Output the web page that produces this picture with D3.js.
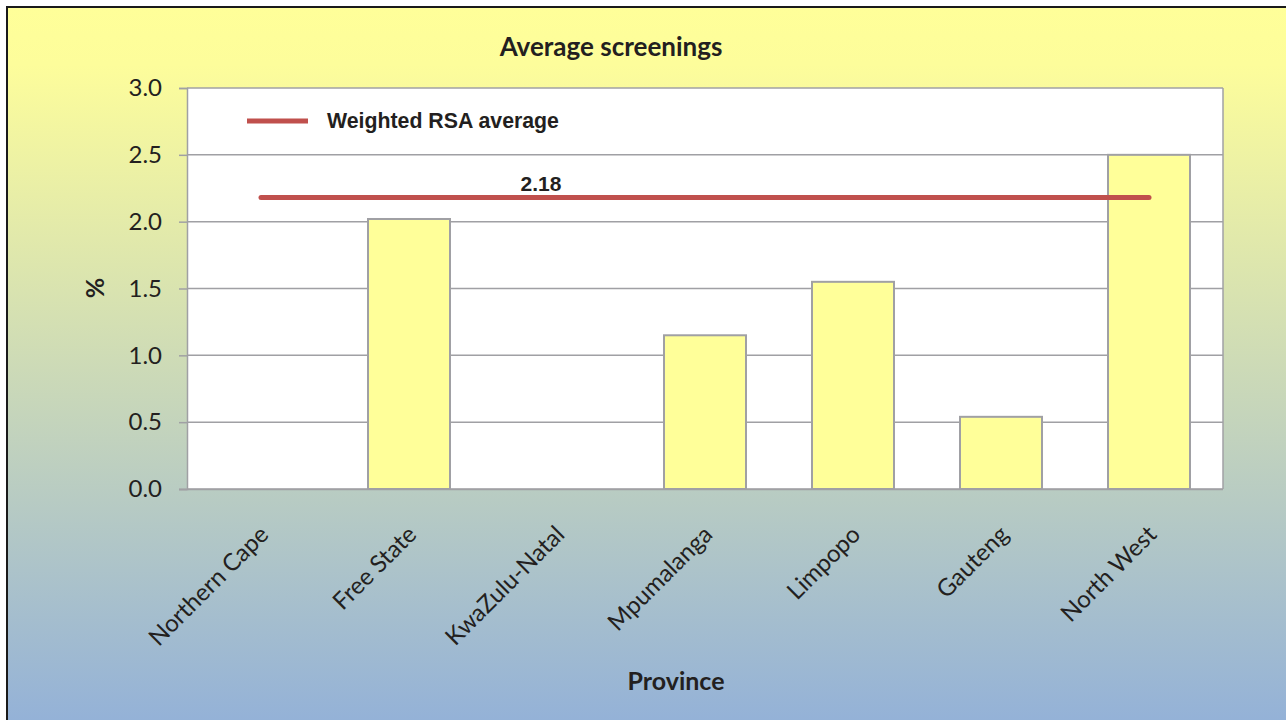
<!DOCTYPE html>
<html>
<head>
<meta charset="utf-8">
<script src="https://cdn.jsdelivr.net/npm/d3@7"></script>
<style>
  html, body { margin: 0; padding: 0; background: #ffffff; }
  svg { display: block; }
</style>
</head>
<body>
<svg id="chart" width="1286" height="720"></svg>
<script>
// Provinces and their average screening rates (%); null = no data reported
const provinces = ["Northern Cape", "Free State", "KwaZulu-Natal", "Mpumalanga", "Limpopo", "Gauteng", "North West"];
const screenings = [null, 2.02, null, 1.15, 1.55, 0.54, 2.50];
const rsaAverage = 2.18;
const yTicks = [0, 0.5, 1.0, 1.5, 2.0, 2.5, 3.0];

const W = 1286, H = 720;
const plot = { left: 187, right: 1223, top: 88, bottom: 489 };
const calibriLike = "Lato, 'Open Sans', sans-serif";
const arialLike = "'Liberation Sans', Arial, sans-serif";
const textColor = "#231f20";
const gridColor = "#a0a0a4";

const svg = d3.select("#chart");

// Chart-area background: yellow to blue vertical gradient
const defs = svg.append("defs");
const grad = defs.append("linearGradient")
  .attr("id", "bg").attr("x1", 0).attr("y1", 0).attr("x2", 0).attr("y2", 1);
grad.append("stop").attr("offset", "0%").attr("stop-color", "#ffff99");
grad.append("stop").attr("offset", "8%").attr("stop-color", "#fdfd9b");
grad.append("stop").attr("offset", "100%").attr("stop-color", "#93b1d8");

svg.append("rect")
  .attr("x", 7).attr("y", 7).attr("width", W).attr("height", H)
  .attr("fill", "url(#bg)")
  .attr("stroke", "#1a1a1a").attr("stroke-width", 2);

// Scales
const x = d3.scaleBand()
  .domain(provinces)
  .range([plot.left, plot.right])
  .paddingInner(0.446)
  .paddingOuter(0.223);

const y = d3.scaleLinear()
  .domain([0, 3])
  .range([plot.bottom, plot.top]);

// Plot area
svg.append("rect")
  .attr("x", plot.left).attr("y", plot.top)
  .attr("width", plot.right - plot.left).attr("height", plot.bottom - plot.top)
  .attr("fill", "#ffffff");

// Horizontal gridlines
svg.append("g")
  .selectAll("line")
  .data(yTicks)
  .join("line")
  .attr("x1", plot.left).attr("x2", plot.right)
  .attr("y1", d => y(d)).attr("y2", d => y(d))
  .attr("stroke", gridColor).attr("stroke-width", 1.5);

// Right border of plot area
svg.append("line")
  .attr("x1", plot.right).attr("x2", plot.right)
  .attr("y1", plot.top).attr("y2", plot.bottom)
  .attr("stroke", gridColor).attr("stroke-width", 1.5);

// Bars
const barData = provinces.map((p, i) => ({ province: p, value: screenings[i] }))
  .filter(d => d.value !== null);

svg.append("g")
  .selectAll("rect")
  .data(barData)
  .join("rect")
  .attr("x", d => x(d.province))
  .attr("y", d => y(d.value))
  .attr("width", x.bandwidth())
  .attr("height", d => y(0) - y(d.value))
  .attr("fill", "#ffff99")
  .attr("stroke", gridColor).attr("stroke-width", 2);

// Y axis
const yAxis = d3.axisLeft(y)
  .tickValues(yTicks)
  .tickFormat(d3.format(".1f"))
  .tickSize(8)
  .tickPadding(17);

const gy = svg.append("g")
  .attr("transform", `translate(${plot.left},0)`)
  .call(yAxis);
gy.select(".domain").attr("stroke", gridColor).attr("stroke-width", 1.5);
gy.selectAll(".tick line").attr("stroke", gridColor).attr("stroke-width", 1.5);
gy.selectAll(".tick text")
  .attr("fill", textColor)
  .style("font-family", calibriLike)
  .style("font-size", "24px");

// X axis (labels rotated 45 degrees, no tick marks)
const xAxis = d3.axisBottom(x).tickSize(0).tickPadding(0);
const gx = svg.append("g")
  .attr("transform", `translate(0,${plot.bottom})`)
  .call(xAxis);
gx.select(".domain").attr("stroke", gridColor).attr("stroke-width", 1.5)
  .attr("d", `M${plot.left - 8},0.5H${plot.right}`);
gx.selectAll(".tick text")
  .attr("fill", textColor)
  .style("font-family", calibriLike)
  .style("font-size", "24px")
  .attr("text-anchor", "end")
  .attr("dy", 0)
  .attr("y", 0)
  .attr("transform", "translate(9,47) rotate(-45)");

// Weighted RSA average line, spanning first to last category centre
const centre = p => x(p) + x.bandwidth() / 2;
svg.append("line")
  .attr("x1", centre(provinces[0]))
  .attr("x2", centre(provinces[provinces.length - 1]))
  .attr("y1", y(rsaAverage)).attr("y2", y(rsaAverage))
  .attr("stroke", "#c0504d").attr("stroke-width", 5)
  .attr("stroke-linecap", "round");

svg.append("text")
  .attr("x", centre(provinces[2]) - 16)
  .attr("y", y(rsaAverage) - 7)
  .attr("text-anchor", "middle")
  .attr("fill", textColor)
  .style("font-family", arialLike)
  .style("font-weight", "bold")
  .style("font-size", "21px")
  .text(d3.format(".2f")(rsaAverage));

// Legend
svg.append("line")
  .attr("x1", 247).attr("x2", 308)
  .attr("y1", 121).attr("y2", 121)
  .attr("stroke", "#c0504d").attr("stroke-width", 5);
svg.append("text")
  .attr("x", 327).attr("y", 128)
  .attr("fill", textColor)
  .style("font-family", arialLike)
  .style("font-weight", "bold")
  .style("font-size", "21.3px")
  .text("Weighted RSA average");

// Title
svg.append("text")
  .attr("x", 611).attr("y", 56)
  .attr("text-anchor", "middle")
  .attr("fill", textColor)
  .style("font-family", calibriLike)
  .style("font-weight", "bold")
  .style("font-size", "26px")
  .text("Average screenings");

// Axis titles
svg.append("text")
  .attr("transform", "translate(104,288) rotate(-90)")
  .attr("text-anchor", "middle")
  .attr("fill", textColor)
  .style("font-family", calibriLike)
  .style("font-weight", "bold")
  .style("font-size", "25px")
  .text("%");

svg.append("text")
  .attr("x", 676).attr("y", 690)
  .attr("text-anchor", "middle")
  .attr("fill", textColor)
  .style("font-family", calibriLike)
  .style("font-weight", "bold")
  .style("font-size", "25px")
  .text("Province");
</script>
</body>
</html>
